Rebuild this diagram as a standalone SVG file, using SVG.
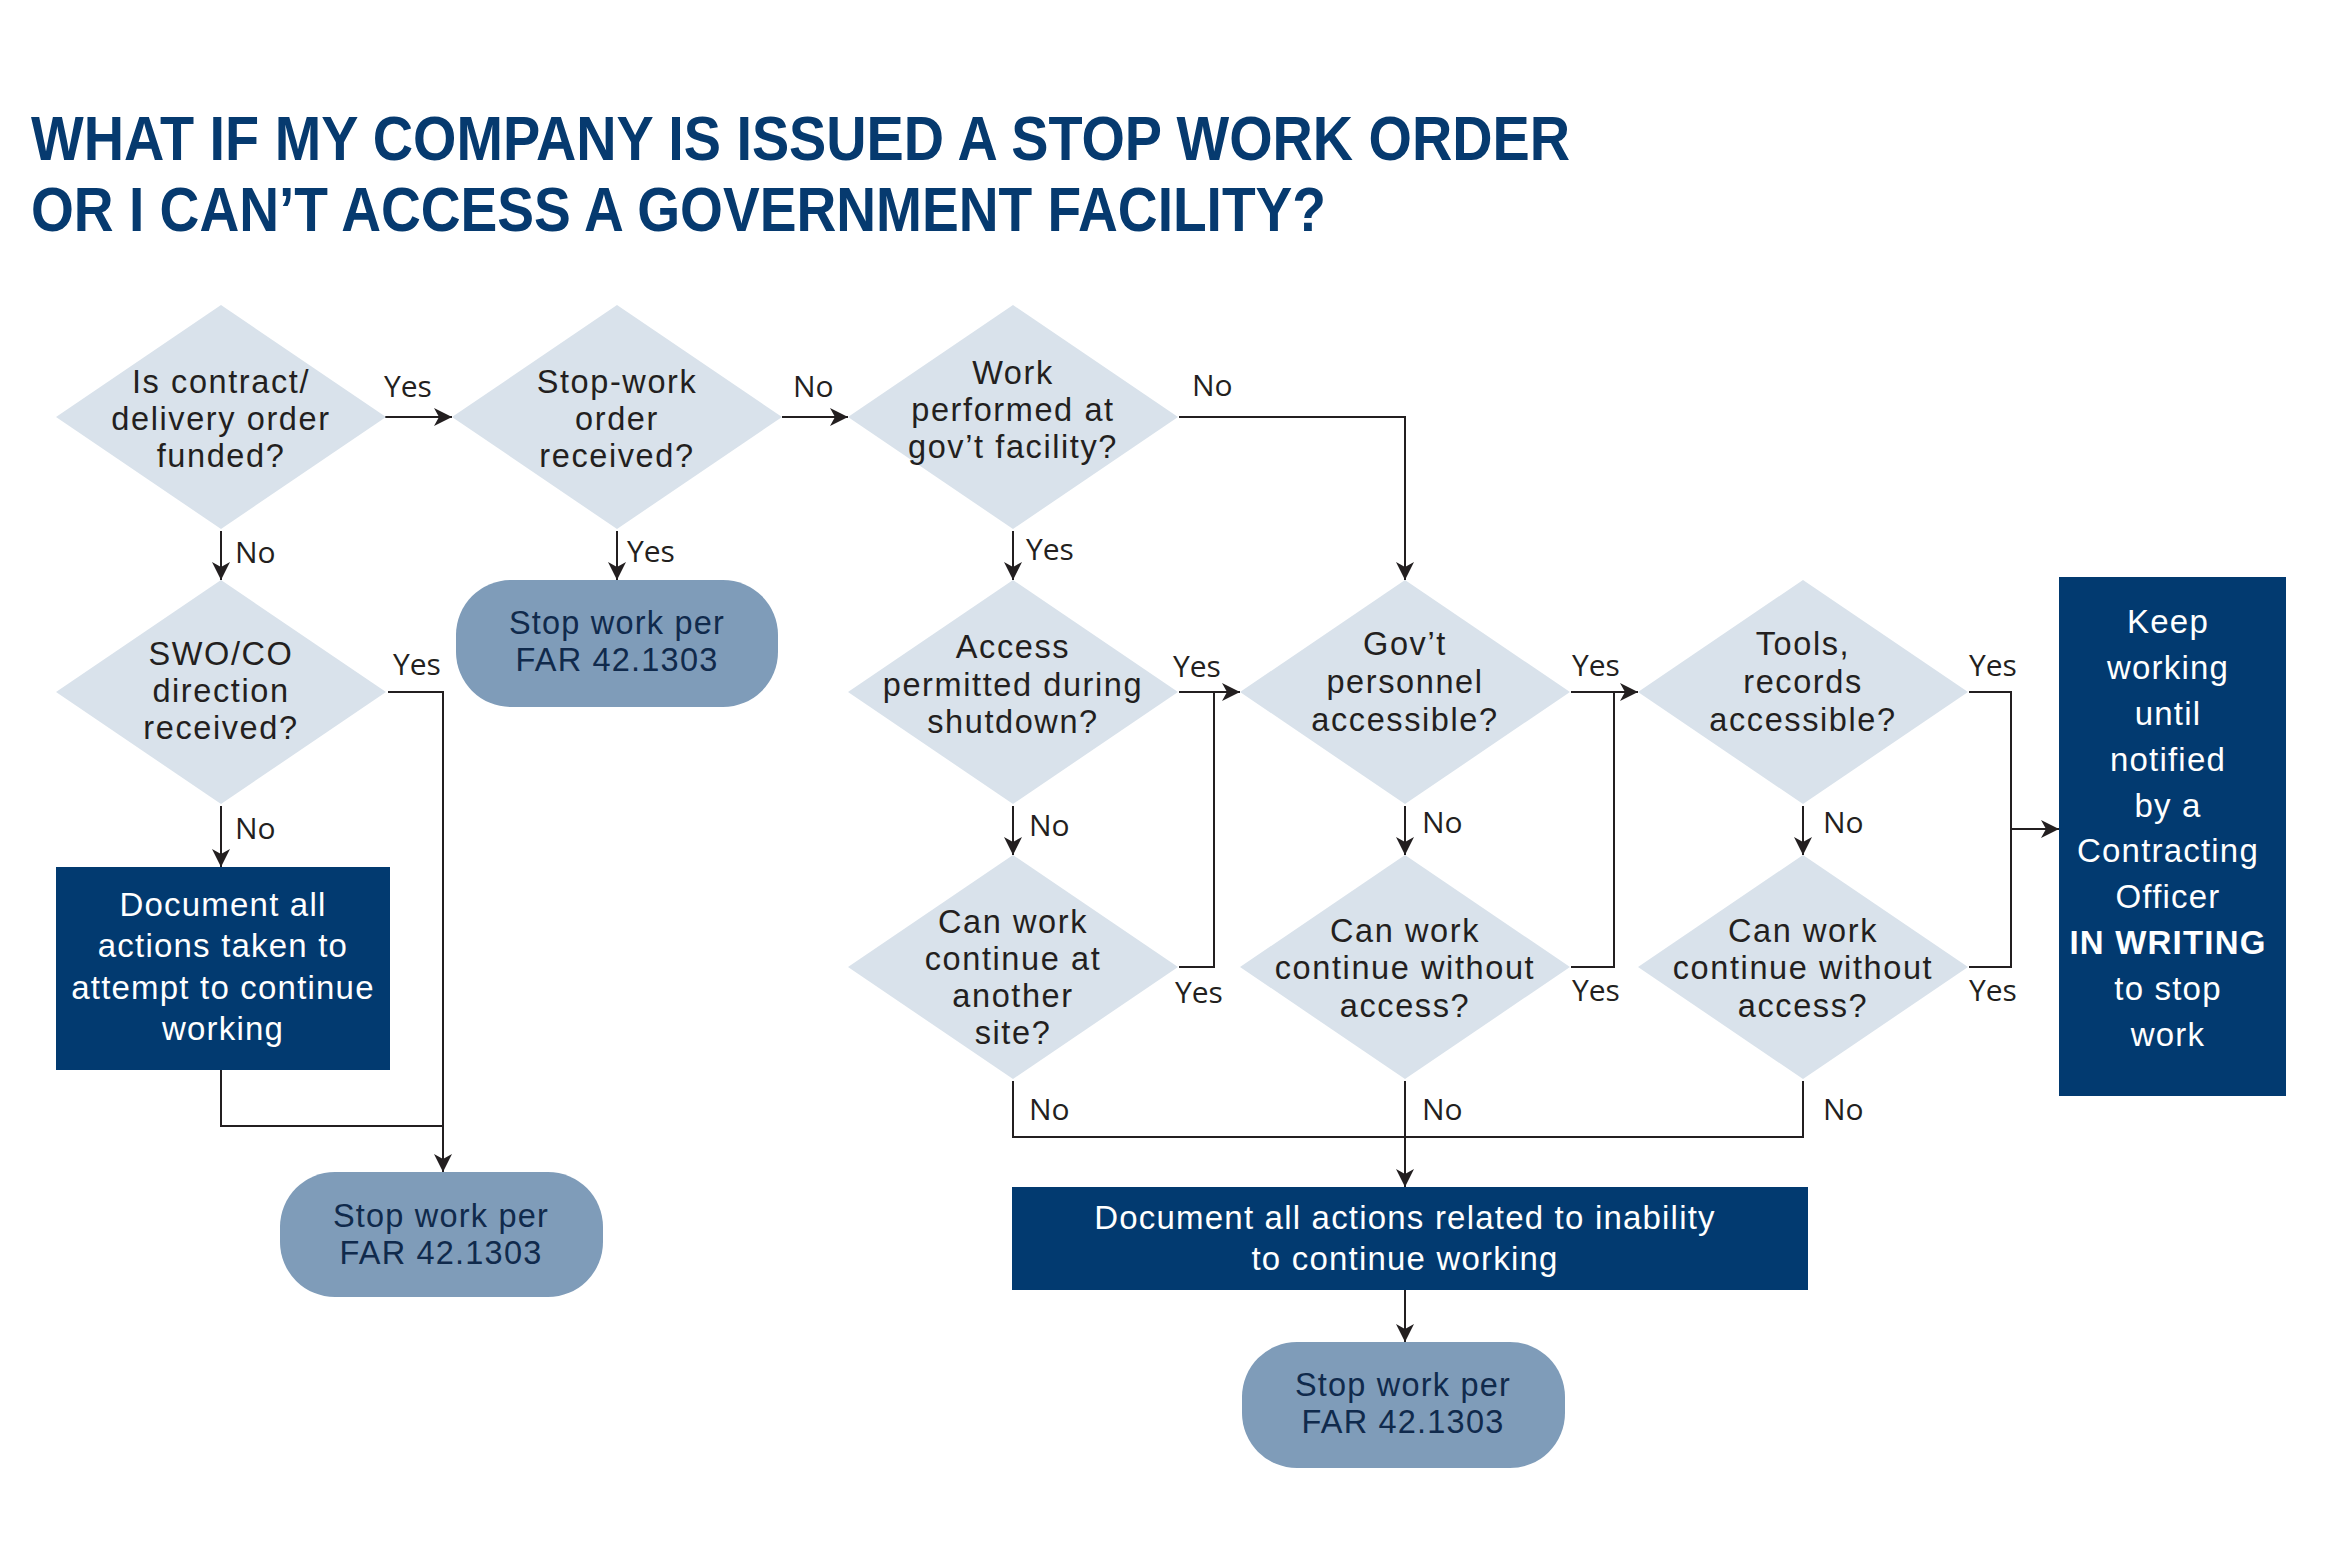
<svg xmlns="http://www.w3.org/2000/svg" width="2331" height="1564" viewBox="0 0 2331 1564">
<style>
.title{font-family:"Liberation Sans",Arial,sans-serif;font-weight:700;font-size:63px;fill:#063a6f}
.dia{fill:#d9e2eb}
.dt{font-family:"Liberation Sans",Arial,sans-serif;font-size:32.5px;letter-spacing:1.6px;fill:#231f20;text-anchor:middle}
.stop{fill:#7f9cb9}
.st{font-family:"Liberation Sans",Arial,sans-serif;font-size:32.5px;letter-spacing:1.2px;fill:#102a4c;text-anchor:middle}
.box{fill:#023a70}
.bt{font-family:"Liberation Sans",Arial,sans-serif;font-size:33px;letter-spacing:1.2px;fill:#ffffff;text-anchor:middle}
.lbl{font-family:"Open Sans","Liberation Sans",sans-serif;font-size:30px;fill:#231f20}
.con path{fill:none;stroke:#231f20;stroke-width:2}
</style>
<defs>
<marker id="ah" viewBox="0 0 18 18" refX="18" refY="9" markerWidth="18" markerHeight="18" markerUnits="userSpaceOnUse" orient="auto">
<path d="M0,0 L18,9 L0,18 L5,9 Z" fill="#231f20"/>
</marker>
</defs>
<rect width="2331" height="1564" fill="#ffffff"/>
<g id="title">
<text class="title"><tspan x="31" y="160" textLength="1539" lengthAdjust="spacingAndGlyphs">WHAT IF MY COMPANY IS ISSUED A STOP WORK ORDER</tspan><tspan x="31" y="231" textLength="1295" lengthAdjust="spacingAndGlyphs">OR I CAN’T ACCESS A GOVERNMENT FACILITY?</tspan></text>
</g>
<g id="connectors" class="con">
<path d="M385,417 H452" marker-end="url(#ah)"/>
<path d="M782,417 H848" marker-end="url(#ah)"/>
<path d="M1179,417 H1405 V580" marker-end="url(#ah)"/>
<path d="M221,531 V580" marker-end="url(#ah)"/>
<path d="M617,531 V580" marker-end="url(#ah)"/>
<path d="M1013,531 V580" marker-end="url(#ah)"/>
<path d="M221,806 V867" marker-end="url(#ah)"/>
<path d="M388,692 H443 V1172" marker-end="url(#ah)"/>
<path d="M221,1070 V1126 H443"/>
<path d="M1013,806 V855" marker-end="url(#ah)"/>
<path d="M1405,806 V855" marker-end="url(#ah)"/>
<path d="M1803,806 V855" marker-end="url(#ah)"/>
<path d="M1179,692 H1240" marker-end="url(#ah)"/>
<path d="M1179,967 H1214 V692"/>
<path d="M1571,692 H1638" marker-end="url(#ah)"/>
<path d="M1571,967 H1614 V692"/>
<path d="M1969,692 H2011 V967 H1969"/>
<path d="M2011,829 H2059" marker-end="url(#ah)"/>
<path d="M1013,1081 V1137 H1803 V1081"/>
<path d="M1405,1081 V1187" marker-end="url(#ah)"/>
<path d="M1405,1290 V1342" marker-end="url(#ah)"/>
</g>
<g id="labels" class="lbl">
<text x="384" y="397">Yes</text>
<text x="793" y="397">No</text>
<text x="1192" y="396">No</text>
<text x="235" y="563">No</text>
<text x="627" y="562">Yes</text>
<text x="1026" y="560">Yes</text>
<text x="393" y="675">Yes</text>
<text x="235" y="839">No</text>
<text x="1173" y="677">Yes</text>
<text x="1029" y="836">No</text>
<text x="1175" y="1003">Yes</text>
<text x="1029" y="1120">No</text>
<text x="1572" y="676">Yes</text>
<text x="1422" y="833">No</text>
<text x="1572" y="1001">Yes</text>
<text x="1422" y="1120">No</text>
<text x="1969" y="676">Yes</text>
<text x="1823" y="833">No</text>
<text x="1969" y="1001">Yes</text>
<text x="1823" y="1120">No</text>
</g>
<g id="d1">
<polygon class="dia" points="221,305 386,417 221,529 56,417"/>
<text class="dt"><tspan x="221" y="393">Is contract/</tspan><tspan x="221" y="430">delivery order</tspan><tspan x="221" y="467">funded?</tspan></text>
</g>
<g id="d2">
<polygon class="dia" points="617,305 782,417 617,529 452,417"/>
<text class="dt"><tspan x="617" y="393">Stop-work</tspan><tspan x="617" y="430">order</tspan><tspan x="617" y="467">received?</tspan></text>
</g>
<g id="d3">
<polygon class="dia" points="1013,305 1178,417 1013,529 848,417"/>
<text class="dt"><tspan x="1013" y="384">Work</tspan><tspan x="1013" y="421">performed at</tspan><tspan x="1013" y="458">gov’t facility?</tspan></text>
</g>
<g id="d4">
<polygon class="dia" points="221,580 386,692 221,804 56,692"/>
<text class="dt"><tspan x="221" y="665">SWO/CO</tspan><tspan x="221" y="702">direction</tspan><tspan x="221" y="739">received?</tspan></text>
</g>
<g id="stop1">
<rect class="stop" x="456" y="580" width="322" height="127" rx="55"/>
<text class="st"><tspan x="617" y="634">Stop work per</tspan><tspan x="617" y="671">FAR 42.1303</tspan></text>
</g>
<g id="d5">
<polygon class="dia" points="1013,580 1178,692 1013,804 848,692"/>
<text class="dt"><tspan x="1013" y="658">Access</tspan><tspan x="1013" y="696">permitted during</tspan><tspan x="1013" y="733">shutdown?</tspan></text>
</g>
<g id="d6">
<polygon class="dia" points="1405,580 1570,692 1405,804 1240,692"/>
<text class="dt"><tspan x="1405" y="655">Gov’t</tspan><tspan x="1405" y="693">personnel</tspan><tspan x="1405" y="731">accessible?</tspan></text>
</g>
<g id="d7">
<polygon class="dia" points="1803,580 1968,692 1803,804 1638,692"/>
<text class="dt"><tspan x="1803" y="655">Tools,</tspan><tspan x="1803" y="693">records</tspan><tspan x="1803" y="731">accessible?</tspan></text>
</g>
<g id="d8">
<polygon class="dia" points="1013,855 1178,967 1013,1079 848,967"/>
<text class="dt"><tspan x="1013" y="933">Can work</tspan><tspan x="1013" y="970">continue at</tspan><tspan x="1013" y="1007">another</tspan><tspan x="1013" y="1044">site?</tspan></text>
</g>
<g id="d9">
<polygon class="dia" points="1405,855 1570,967 1405,1079 1240,967"/>
<text class="dt"><tspan x="1405" y="942">Can work</tspan><tspan x="1405" y="979">continue without</tspan><tspan x="1405" y="1017">access?</tspan></text>
</g>
<g id="d10">
<polygon class="dia" points="1803,855 1968,967 1803,1079 1638,967"/>
<text class="dt"><tspan x="1803" y="942">Can work</tspan><tspan x="1803" y="979">continue without</tspan><tspan x="1803" y="1017">access?</tspan></text>
</g>
<g id="doc1">
<rect class="box" x="56" y="867" width="334" height="203"/>
<text class="bt"><tspan x="223" y="916">Document all</tspan><tspan x="223" y="957">actions taken to</tspan><tspan x="223" y="999">attempt to continue</tspan><tspan x="223" y="1040">working</tspan></text>
</g>
<g id="stop2">
<rect class="stop" x="280" y="1172" width="323" height="125" rx="55"/>
<text class="st"><tspan x="441" y="1227">Stop work per</tspan><tspan x="441" y="1264">FAR 42.1303</tspan></text>
</g>
<g id="doc2">
<rect class="box" x="1012" y="1187" width="796" height="103"/>
<text class="bt"><tspan x="1405" y="1229">Document all actions related to inability</tspan><tspan x="1405" y="1270">to continue working</tspan></text>
</g>
<g id="stop3">
<rect class="stop" x="1242" y="1342" width="323" height="126" rx="55"/>
<text class="st"><tspan x="1403" y="1396">Stop work per</tspan><tspan x="1403" y="1433">FAR 42.1303</tspan></text>
</g>
<g id="keep">
<rect class="box" x="2059" y="577" width="227" height="519"/>
<text class="bt"><tspan x="2168" y="633">Keep</tspan><tspan x="2168" y="679">working</tspan><tspan x="2168" y="725">until</tspan><tspan x="2168" y="771">notified</tspan><tspan x="2168" y="817">by a</tspan><tspan x="2168" y="862">Contracting</tspan><tspan x="2168" y="908">Officer</tspan><tspan x="2168" y="954" font-weight="700">IN WRITING</tspan><tspan x="2168" y="1000">to stop</tspan><tspan x="2168" y="1046">work</tspan></text>
</g>
</svg>
